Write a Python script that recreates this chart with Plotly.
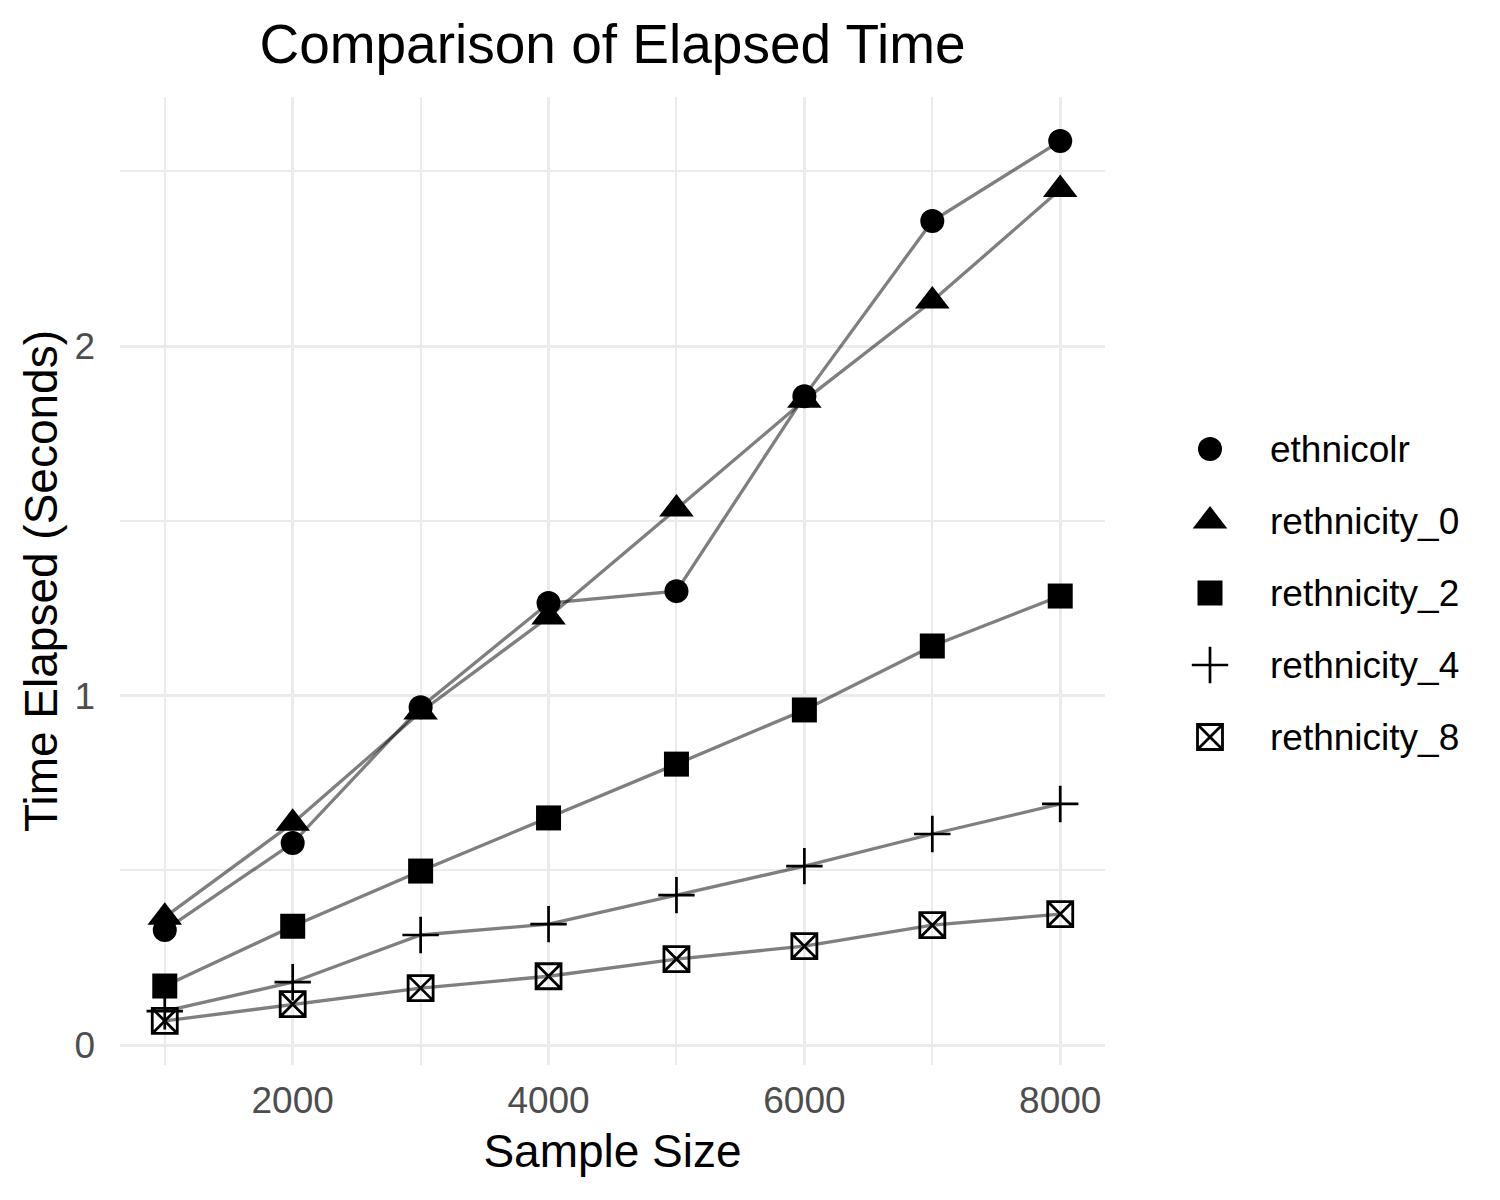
import plotly.graph_objects as go

sample_size = [1000, 2000, 3000, 4000, 5000, 6000, 7000, 8000]
series_names = ["ethnicolr", "rethnicity_0", "rethnicity_2", "rethnicity_4", "rethnicity_8"]
ethnicolr = [0.329, 0.578, 0.967, 1.265, 1.299, 1.857, 2.358, 2.587]
rethnicity_0 = [0.366, 0.635, 0.953, 1.225, 1.534, 1.845, 2.129, 2.448]
rethnicity_2 = [0.169, 0.340, 0.498, 0.650, 0.804, 0.959, 1.142, 1.285]
rethnicity_4 = [0.097, 0.180, 0.315, 0.346, 0.429, 0.512, 0.604, 0.690]
rethnicity_8 = [0.069, 0.117, 0.163, 0.197, 0.246, 0.283, 0.343, 0.375]
values = [ethnicolr, rethnicity_0, rethnicity_2, rethnicity_4, rethnicity_8]

symbols = ["circle", "triangle-up", "square", "cross-thin-open", "square-x-open"]
sizes = [24, 30, 25, 26, 25]
line_widths = [0, 0, 0, 2.7, 2.8]

W, H = 1500, 1200
ML, MR, MT, MB = 112, 20, 89, 143
plot_w = W - ML - MR
plot_h = H - MT - MB
main_w = 985

fig = go.Figure()

# connecting lines (drawn beneath all markers)
for name, ys in zip(series_names, values):
    fig.add_trace(go.Scatter(
        x=sample_size, y=ys, mode="lines",
        line=dict(color="rgba(0,0,0,0.5)", width=3.3),
        showlegend=False, hoverinfo="skip",
    ))

# points
for name, ys, sym, sz, lw in zip(series_names, values, symbols, sizes, line_widths):
    fig.add_trace(go.Scatter(
        x=sample_size, y=ys, mode="markers", name=name, showlegend=False,
        marker=dict(symbol=sym, size=sz, color="black",
                    line=dict(color="black", width=lw)),
    ))

# legend keys, drawn on an auxiliary categorical axis
for name, sym, sz, lw in zip(series_names, symbols, sizes, line_widths):
    fig.add_trace(go.Scatter(
        x=[0], y=[name], mode="markers", xaxis="x2", yaxis="y2",
        showlegend=False, hoverinfo="skip",
        marker=dict(symbol=sym, size=sz, color="black",
                    line=dict(color="black", width=lw)),
    ))
    fig.add_annotation(x=0, y=name, xref="x2", yref="y2", text=name, showarrow=False,
                       xanchor="left", yanchor="middle", xshift=58,
                       font=dict(size=37, color="black"))

grid = "#EBEBEB"
leg_left, leg_right = 1160, 1480
leg_top, leg_bot = 405, 765
fig.update_layout(
    width=W, height=H,
    paper_bgcolor="white", plot_bgcolor="white",
    margin=dict(l=ML, r=MR, t=MT, b=MB),
    font=dict(family="Liberation Sans, Arial, Helvetica, sans-serif", color="black"),
    title=dict(text="Comparison of Elapsed Time", x=(main_w / 2) / plot_w, xref="paper",
               xanchor="center", y=1 - 36 / H, yref="container", yanchor="middle",
               font=dict(size=55, color="black")),
    showlegend=False,
    xaxis2=dict(domain=[(leg_left - ML) / plot_w, (leg_right - ML) / plot_w],
                range=[-(1202 - leg_left), leg_right - 1202], anchor="y2",
                visible=False, fixedrange=True),
    yaxis2=dict(domain=[(H - MB - leg_bot) / plot_h, (H - MB - leg_top) / plot_h],
                type="category", categoryorder="array", categoryarray=series_names,
                range=[len(series_names) - 0.5, -0.5], anchor="x2",
                visible=False, fixedrange=True),
)
fig.update_xaxes(
    selector=dict(anchor="y"),
)
fig.layout.xaxis.update(
    domain=[0, main_w / plot_w],
    range=[650, 8350], tickvals=[2000, 4000, 6000, 8000], ticktext=["2000", "4000", "6000", "8000"],
    showgrid=True, gridcolor=grid, gridwidth=3, zeroline=False, showline=False,
    minor=dict(tickvals=[1000, 3000, 5000, 7000], showgrid=True, gridcolor=grid, gridwidth=1.5),
    tickfont=dict(size=37, color="#4D4D4D"), ticks="", ticklabelstandoff=10, automargin=False,
    title=dict(text="Sample Size", font=dict(size=46, color="black"), standoff=14),
)
fig.layout.yaxis.update(
    range=[-0.057, 2.713], tickvals=[0, 1, 2], ticktext=["0", "1", "2"],
    showgrid=True, gridcolor=grid, gridwidth=3, zeroline=False, showline=False,
    minor=dict(tickvals=[0.5, 1.5, 2.5], showgrid=True, gridcolor=grid, gridwidth=1.5),
    tickfont=dict(size=37, color="#4D4D4D"), ticks="", ticklabelstandoff=24, automargin=False,
    title=dict(text="Time Elapsed (Seconds)", font=dict(size=46, color="black"), standoff=2),
)

fig.write_html("out.html")
